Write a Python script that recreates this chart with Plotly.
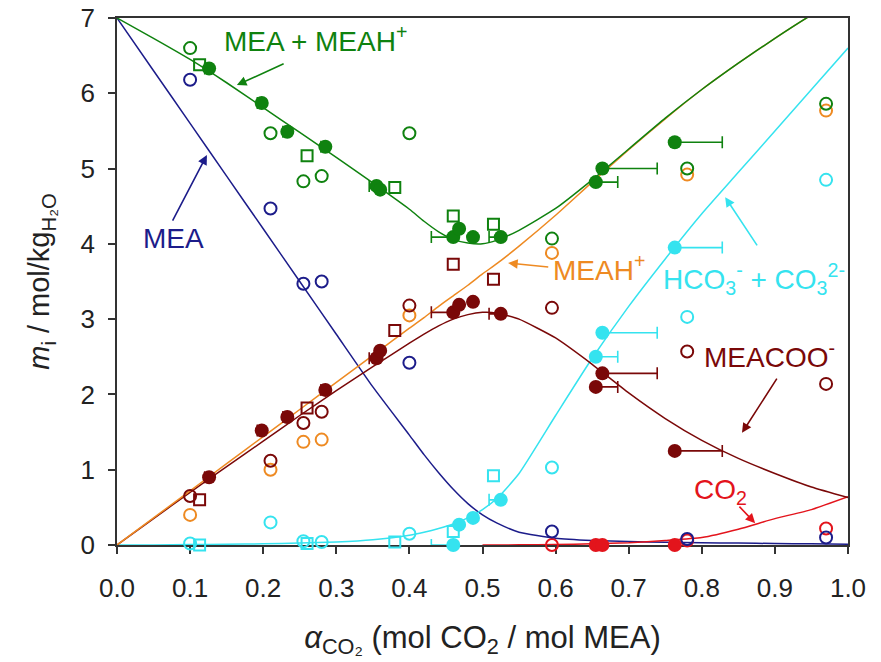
import plotly.graph_objects as go

# ---------------- model curves ----------------
MODEL_X = [0.0, 0.05, 0.1, 0.15, 0.2, 0.25, 0.3, 0.35, 0.4, 0.42, 0.44, 0.46, 0.48,
           0.5, 0.52, 0.55, 0.6, 0.65, 0.7, 0.75, 0.8, 0.85, 0.9, 0.95, 1.0]
MODEL_MEA = [7.0, 6.3, 5.6, 4.9, 4.2, 3.5, 2.8, 2.1, 1.46, 1.2, 0.96, 0.74, 0.55,
             0.4, 0.29, 0.17, 0.09, 0.06, 0.045, 0.035, 0.03, 0.025, 0.02, 0.015, 0.01]
MODEL_MEA_TOT = [7.0, 6.73, 6.45, 6.14, 5.81, 5.48, 5.15, 4.81, 4.46, 4.3, 4.16, 4.06, 4.01,
                 4.0, 4.05, 4.18, 4.47, 4.85, 5.26, 5.67, 6.05, 6.4, 6.73, 7.04, 7.32]
MODEL_MEAH = [0.0, 0.36, 0.72, 1.08, 1.44, 1.8, 2.16, 2.52, 2.88, 3.02, 3.17, 3.31, 3.45,
              3.6, 3.74, 3.97, 4.38, 4.82, 5.25, 5.66, 6.05, 6.4, 6.73, 7.04, 7.32]
MODEL_MEACOO = [0.0, 0.35, 0.7, 1.04, 1.38, 1.72, 2.05, 2.37, 2.68, 2.8, 2.91, 3.0, 3.06,
                3.09, 3.08, 3.0, 2.75, 2.4, 2.02, 1.68, 1.39, 1.15, 0.95, 0.77, 0.63]
MODEL_HCO3 = [0.0, 0.0, 0.005, 0.01, 0.015, 0.025, 0.04, 0.07, 0.13, 0.17, 0.22, 0.28, 0.36,
              0.47, 0.62, 0.95, 1.72, 2.48, 3.17, 3.8, 4.4, 4.95, 5.5, 6.05, 6.6]
MODEL_CO2 = [None, None, None, None, None, None, None, None, None, None, None, None, None,
             0.0, 0.0, 0.002, 0.005, 0.015, 0.03, 0.06, 0.1, 0.21, 0.35, 0.47, 0.64]

# ---------------- experimental data: open circles ----------------
OC_X = [0.1, 0.21, 0.255, 0.28, 0.4, 0.595, 0.78, 0.97]
OC_MEA_TOT = [6.6, 5.47, 4.83, 4.9, 5.47, 4.07, 5.0, 5.86]
OC_MEA = [6.18, 4.47, 3.47, 3.5, 2.42, 0.18, 0.08, 0.1]
OC_MEAH = [0.4, 1.0, 1.37, 1.4, 3.05, 3.88, 4.92, 5.77]
OC_MEACOO = [0.65, 1.12, 1.62, 1.77, 3.18, 3.15, 2.57, 2.14]
OC_HCO3 = [0.02, 0.3, 0.05, 0.04, 0.15, 1.03, 3.03, 4.85]
OC_CO2 = [None, None, None, None, None, 0.0, 0.06, 0.22]

# ---------------- experimental data: open squares ----------------
OS_X = [0.113, 0.26, 0.38, 0.46, 0.515]
OS_MEA_TOT = [6.38, 5.17, 4.75, 4.37, 4.26]
OS_MEACOO = [0.6, 1.82, 2.85, 3.73, 3.53]
OS_HCO3 = [0.0, 0.02, 0.04, 0.18, 0.92]

# ---------------- experimental data: filled circles ----------------
FC_X = [0.126, 0.198, 0.233, 0.285, 0.355, 0.36, 0.46, 0.468, 0.487, 0.525, 0.655, 0.664, 0.763]
FC_MEA_TOT = [6.33, 5.87, 5.49, 5.29, 4.77, 4.72, 4.09, 4.2, 4.09, 4.09, 4.82, 5.0, 5.35]
FC_MEACOO = [0.9, 1.52, 1.7, 2.06, 2.48, 2.58, 3.09, 3.19, 3.23, 3.07, 2.1, 2.28, 1.25]
FC_HCO3 = [None, None, None, None, None, None, 0.0, 0.27, 0.36, 0.6, 2.5, 2.82, 3.95]
FC_CO2 = [None, None, None, None, None, None, None, None, None, None, 0.0, 0.0, 0.0]
FC_XERR_MINUS = [0.006, 0.006, 0.006, 0.006, 0.01, 0.0, 0.03, 0.0, 0.0, 0.016, 0.0, 0.0, 0.0]
FC_XERR_PLUS = [0.0, 0.0, 0.0, 0.0, 0.0, 0.0, 0.0, 0.0, 0.0, 0.0, 0.03, 0.075, 0.065]

X_TICKS = [0.0, 0.1, 0.2, 0.3, 0.4, 0.5, 0.6, 0.7, 0.8, 0.9, 1.0]
X_TICK_LABELS = ["0.0", "0.1", "0.2", "0.3", "0.4", "0.5", "0.6", "0.7", "0.8", "0.9", "1.0"]
Y_TICKS = [0, 1, 2, 3, 4, 5, 6, 7]

GREEN = "#0f820f"
NAVY = "#1c1c8a"
ORANGE = "#ee8a22"
DARKRED = "#7a0808"
CYAN = "#35e3ef"
RED = "#e3141c"
FONT = "Liberation Sans, Arial, sans-serif"

fig = go.Figure()

# model lines
for ys, col in [(MODEL_MEA, NAVY), (MODEL_CO2, RED), (MODEL_HCO3, CYAN),
                (MODEL_MEACOO, DARKRED), (MODEL_MEAH, ORANGE), (MODEL_MEA_TOT, GREEN)]:
    fig.add_trace(go.Scatter(x=MODEL_X, y=ys, mode="lines",
                             line=dict(color=col, width=1.5, shape="spline", smoothing=0.5),
                             hoverinfo="skip", showlegend=False))

def open_circles(ys, col):
    fig.add_trace(go.Scatter(x=OC_X, y=ys, mode="markers", cliponaxis=False, showlegend=False,
                             marker=dict(symbol="circle-open", size=12, color=col, line=dict(width=2, color=col))))

def open_squares(ys, col):
    fig.add_trace(go.Scatter(x=OS_X, y=ys, mode="markers", cliponaxis=False, showlegend=False,
                             marker=dict(symbol="square-open", size=11, color=col, line=dict(width=2, color=col))))

def filled(ys, col, err=True):
    ex = dict(type="data", symmetric=False, array=FC_XERR_PLUS, arrayminus=FC_XERR_MINUS,
              color=col, thickness=1.6, width=6) if err else None
    fig.add_trace(go.Scatter(x=FC_X, y=ys, mode="markers", cliponaxis=False, showlegend=False,
                             error_x=ex, marker=dict(symbol="circle", size=14, color=col)))

for ys, col in [(OC_HCO3, CYAN), (OC_CO2, RED), (OC_MEA, NAVY), (OC_MEAH, ORANGE),
                (OC_MEACOO, DARKRED), (OC_MEA_TOT, GREEN)]:
    open_circles(ys, col)
for ys, col in [(OS_HCO3, CYAN), (OS_MEACOO, DARKRED), (OS_MEA_TOT, GREEN)]:
    open_squares(ys, col)
filled(FC_HCO3, CYAN)
filled(FC_MEACOO, DARKRED)
filled(FC_MEA_TOT, GREEN)
filled(FC_CO2, RED, err=False)

# labels and arrows
labels = [
    ("MEA + MEAH<sup>+</sup>", 0.272, 6.72, GREEN),
    ("MEA", 0.077, 4.07, NAVY),
    ("MEAH<sup>+</sup>", 0.66, 3.68, ORANGE),
    ("HCO<sub>3</sub><sup>-</sup> + CO<sub>3</sub><sup>2-</sup>", 0.872, 3.53, CYAN),
    ("MEACOO<sup>-</sup>", 0.893, 2.52, DARKRED),
    ("CO<sub>2</sub>", 0.826, 0.71, RED),
]
for txt, x, y, col in labels:
    fig.add_annotation(x=x, y=y, text=txt, showarrow=False, xanchor="center", yanchor="middle",
                       font=dict(family=FONT, size=28, color=col))

arrows = [
    (0.164, 6.11, 0.23, 6.40, GREEN),
    (0.123, 5.18, 0.075, 4.29, NAVY),
    (0.535, 3.745, 0.592, 3.69, ORANGE),
    (0.832, 4.62, 0.877, 3.96, CYAN),
    (0.855, 1.49, 0.904, 2.23, DARKRED),
    (0.873, 0.29, 0.8495, 0.53, RED),
]
for x, y, ax, ay, col in arrows:
    fig.add_annotation(x=x, y=y, ax=ax, ay=ay, axref="x", ayref="y", text="", showarrow=True,
                       arrowhead=2, arrowsize=1.2, arrowwidth=1.6, arrowcolor=col, standoff=0)

axis_common = dict(showgrid=False, zeroline=False, showline=True, mirror=True, linecolor="#333333",
                   linewidth=1.5, ticks="outside", ticklen=7, tickwidth=1.5, tickcolor="#333333",
                   layer="below traces", automargin=False,
                   tickfont=dict(family=FONT, size=26, color="#222222"))

fig.update_layout(
    width=881, height=662, margin=dict(l=117, r=33, t=18, b=117, autoexpand=False),
    plot_bgcolor="white", paper_bgcolor="white", showlegend=False,
    xaxis=dict(range=[0, 1], tickvals=X_TICKS, ticktext=X_TICK_LABELS, ticklabelstandoff=12,
               title=dict(text="<i>α</i><sub>CO₂</sub> (mol CO<sub>2</sub> / mol MEA)", standoff=24,
                          font=dict(family=FONT, size=31, color="#222222")), **axis_common),
    yaxis=dict(range=[0, 7], tickvals=Y_TICKS, ticklabelstandoff=8,
               title=dict(text="<i>m</i><sub>i</sub> / mol/kg<sub>H₂O</sub>", standoff=22,
                          font=dict(family=FONT, size=29, color="#222222")), **axis_common),
)

fig.write_html("out.html")
